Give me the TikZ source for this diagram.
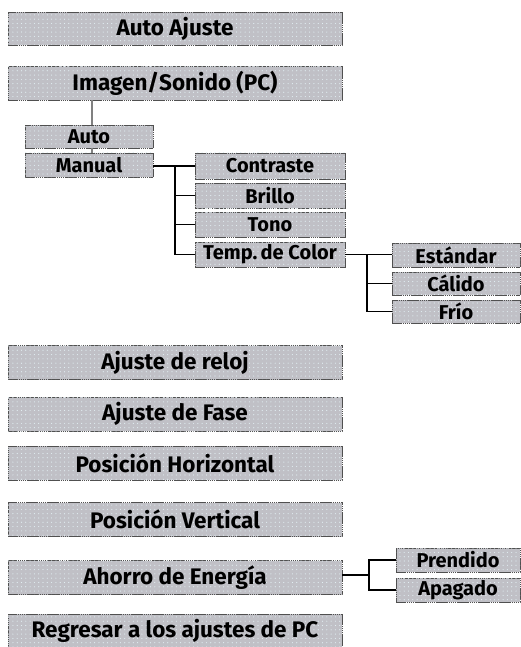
\documentclass[tikz,border=0pt]{standalone}
\usepackage{fontspec}
\setmainfont{Fira Sans}
\usetikzlibrary{patterns.meta}
\definecolor{boxfill}{RGB}{192,192,198}
\definecolor{dotcol}{RGB}{225,238,242}
\definecolor{boxline}{RGB}{80,80,80}
\tikzset{
  menubox/.style={draw=boxline, line width=0.9pt, dash pattern=on 1.6pt off 0.5pt,
    fill=boxfill, postaction={pattern={Dots[distance=4.3pt,radius=0.6pt]}, pattern color=dotcol},
    inner sep=0pt, anchor=center, text=black},
  bigbox/.style={menubox, minimum width=334pt, minimum height=34pt, font=\fontsize{22.5}{22.5}\selectfont\bfseries},
  subbox/.style={menubox, minimum height=24pt, font=\fontsize{20}{20}\selectfont\bfseries},
  conn/.style={draw=black, line width=1.4pt},
  gconn/.style={draw=gray, line width=1.4pt}
}
\begin{document}
\begin{tikzpicture}[x=1pt,y=-1pt]
\useasboundingbox (0,0) rectangle (520,647);
% main column
\node[bigbox, minimum height=33pt] (autoaj) at (175,28.5) {Auto Ajuste};
\node[bigbox] (imagen) at (175,83) {Imagen/Sonido (PC)};
\node[bigbox] (reloj) at (175,362.5) {Ajuste de reloj};
\node[bigbox] (fase) at (175,414) {Ajuste de Fase};
\node[bigbox] (horiz) at (175,463) {Posición Horizontal};
\node[bigbox] (vert) at (175,519.5) {Posición Vertical};
\node[bigbox] (ahorro) at (175,577.5) {Ahorro de Energía};
\node[bigbox] (regresar) at (175,631) {Regresar a los ajustes de PC};
% Imagen sub
\node[subbox, minimum width=128pt, minimum height=23pt] (auto) at (89,136.5) {Auto};
\node[subbox, minimum width=128pt] (manual) at (89,165) {Manual};
\draw[gconn] (imagen.south -| 92,0) -- (auto.north -| 92,0);
\draw[gconn] (auto.south -| 92,0) -- (manual.north -| 92,0);
% Manual sub
\node[subbox, minimum width=150pt, minimum height=26pt] (contraste) at (270,166) {Contraste};
\node[subbox, minimum width=150pt, minimum height=25pt] (brillo) at (270,195.5) {Brillo};
\node[subbox, minimum width=150pt, minimum height=25pt] (tono) at (270,224.5) {Tono};
\node[subbox, minimum width=150pt, minimum height=25pt] (temp) at (270,254.5) {Temp.\,de Color};
\coordinate (mj) at (175,166);
\draw[conn] (manual.east |- mj) -- (contraste.west);
\draw[conn] (mj) |- (temp.west);
\draw[conn] (mj |- brillo.west) -- (brillo.west);
\draw[conn] (mj |- tono.west) -- (tono.west);
% Temp sub
\node[subbox, minimum width=128pt] (estandar) at (456,255) {Estándar};
\node[subbox, minimum width=128pt, minimum height=23pt] (calido) at (456,283.5) {Cálido};
\node[subbox, minimum width=128pt, minimum height=23pt] (frio) at (456,311.5) {Frío};
\coordinate (tj) at (367,255);
\draw[conn] (temp.east) -- (estandar.west |- temp.east);
\draw[conn] (tj) |- (frio.west);
\draw[conn] (tj |- calido.west) -- (calido.west);
% Ahorro sub
\node[subbox, minimum width=124pt] (prendido) at (458,560) {Prendido};
\node[subbox, minimum width=124pt] (apagado) at (458,590) {Apagado};
\coordinate (aj) at (369,575);
\draw[conn] (ahorro.east |- aj) -- (aj);
\draw[conn] (prendido.west) -| (aj) |- (apagado.west);
\end{tikzpicture}
\end{document}
